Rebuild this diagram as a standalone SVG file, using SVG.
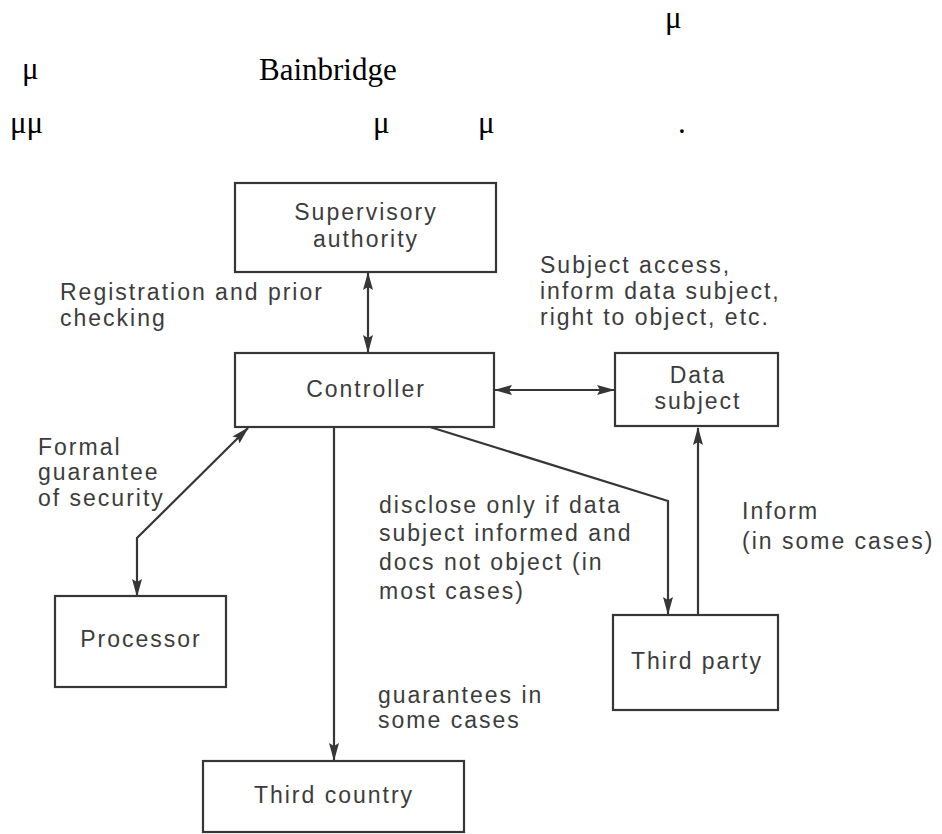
<svg xmlns="http://www.w3.org/2000/svg" width="942" height="834" viewBox="0 0 942 834">
<style>
.hdr{font-family:"Liberation Serif","Times New Roman",serif;font-size:31px;fill:#000}
.box{fill:#fff;stroke:#363636;stroke-width:2.2}
.lbl{font-family:"Liberation Sans",Arial,Helvetica,sans-serif;font-size:23px;letter-spacing:2px;fill:#3c3c3c}
.nt{text-anchor:middle}
.con{fill:none;stroke:#363636;stroke-width:2.2}
</style>
<defs>
<marker id="ah" viewBox="0 0 18 10" refX="17" refY="5" markerWidth="18" markerHeight="10" markerUnits="userSpaceOnUse" orient="auto-start-reverse">
<path d="M0,0 L18,5 L0,10 L3,5 z" fill="#363636"/>
</marker>
</defs>
<rect width="942" height="834" fill="#fff"/>
<g id="header">
<text class="hdr" x="665" y="28">μ</text>
<text class="hdr" x="22" y="79">μ</text>
<text class="hdr" x="259" y="80">Bainbridge</text>
<text class="hdr" x="10" y="133">μμ</text>
<text class="hdr" x="373" y="133">μ</text>
<text class="hdr" x="478" y="133">μ</text>
<text class="hdr" x="678" y="133">.</text>
</g>
<g id="connectors">
<line class="con" x1="368" y1="273" x2="368" y2="352" marker-start="url(#ah)" marker-end="url(#ah)"/>
<line class="con" x1="495" y1="390" x2="614" y2="390" marker-start="url(#ah)" marker-end="url(#ah)"/>
<path class="con" d="M248,428 L137,538 L137,596" marker-start="url(#ah)" marker-end="url(#ah)"/>
<path class="con" d="M430,427 L668,501 L668,614" marker-end="url(#ah)"/>
<line class="con" x1="698" y1="614" x2="698" y2="428" marker-end="url(#ah)"/>
<line class="con" x1="334" y1="427" x2="334" y2="760" marker-end="url(#ah)"/>
</g>
<g id="supervisory">
<rect class="box" x="235" y="183" width="261" height="89"/>
<text class="lbl nt" x="366" y="220">Supervisory</text>
<text class="lbl nt" x="366" y="247">authority</text>
</g>
<g id="controller">
<rect class="box" x="235" y="353" width="259" height="74"/>
<text class="lbl nt" x="366" y="397">Controller</text>
</g>
<g id="datasubject">
<rect class="box" x="615" y="353" width="163" height="73"/>
<text class="lbl nt" x="698" y="383">Data</text>
<text class="lbl nt" x="698" y="409">subject</text>
</g>
<g id="processor">
<rect class="box" x="55" y="596" width="171" height="91"/>
<text class="lbl nt" x="141" y="647">Processor</text>
</g>
<g id="thirdparty">
<rect class="box" x="613" y="615" width="165" height="95"/>
<text class="lbl nt" x="697" y="669">Third party</text>
</g>
<g id="thirdcountry">
<rect class="box" x="203" y="761" width="261" height="71"/>
<text class="lbl nt" x="334" y="803">Third country</text>
</g>
<g id="labels">
<text class="lbl" x="60" y="300">Registration and prior</text>
<text class="lbl" x="60" y="326">checking</text>
<text class="lbl" x="540" y="273">Subject access,</text>
<text class="lbl" x="540" y="299">inform data subject,</text>
<text class="lbl" x="540" y="325">right to object, etc.</text>
<text class="lbl" x="38" y="455">Formal</text>
<text class="lbl" x="38" y="480">guarantee</text>
<text class="lbl" x="38" y="506">of security</text>
<text class="lbl" x="379" y="513">disclose only if data</text>
<text class="lbl" x="379" y="541">subject informed and</text>
<text class="lbl" x="379" y="570">docs not object (in</text>
<text class="lbl" x="379" y="599">most cases)</text>
<text class="lbl" x="742" y="519">Inform</text>
<text class="lbl" x="742" y="549">(in some cases)</text>
<text class="lbl" x="378" y="703">guarantees in</text>
<text class="lbl" x="378" y="728">some cases</text>
</g>
</svg>
